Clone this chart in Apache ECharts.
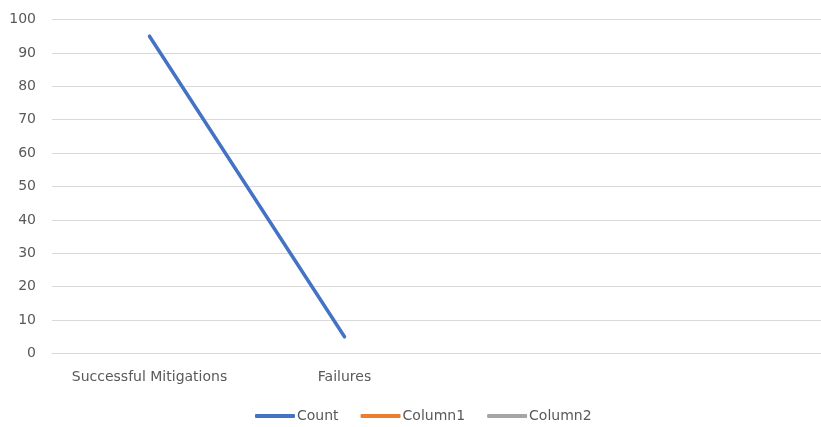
<!DOCTYPE html>
<html>
<head>
<meta charset="utf-8">
<script src="https://cdn.jsdelivr.net/npm/echarts@6/dist/echarts.min.js"></script>
<style>
  html, body { margin: 0; padding: 0; background: #ffffff; }
  #chart { width: 821px; height: 427px; }
</style>
</head>
<body>
<div id="chart"></div>
<script>
// Category axis: two labelled categories plus two empty slots
const categories = ['Successful Mitigations', 'Failures', '', ''];
const countValues = [95, 5, null, null];
const column1Values = [null, null, null, null];
const column2Values = [null, null, null, null];
const yTicks = { min: 0, max: 100, interval: 10 };

const labelFont = '"DejaVu Sans", Arial, sans-serif';
const textColor = '#595959';
const gridColor = '#D9D9D9';

const chart = echarts.init(document.getElementById('chart'));

function lineSeries(name, data, color) {
  return {
    name: name,
    type: 'line',
    data: data,
    symbol: 'none',
    connectNulls: false,
    lineStyle: { color: color, width: 3.5, cap: 'round' },
    itemStyle: { color: color }
  };
}

chart.setOption({
  animation: false,
  backgroundColor: '#ffffff',
  grid: { left: 52, top: 19.5, width: 780, height: 334, containLabel: false, outerBoundsMode: 'none' },
  xAxis: {
    type: 'category',
    data: categories,
    boundaryGap: true,
    axisLine: { show: true, lineStyle: { color: gridColor, width: 1 } },
    axisTick: { show: false },
    axisLabel: { color: textColor, fontFamily: labelFont, fontSize: 14, margin: 17, interval: 0 }
  },
  yAxis: {
    type: 'value',
    min: yTicks.min,
    max: yTicks.max,
    interval: yTicks.interval,
    axisLine: { show: false },
    axisTick: { show: false },
    axisLabel: { color: textColor, fontFamily: labelFont, fontSize: 14, margin: 16 },
    splitLine: { show: true, lineStyle: { color: gridColor, width: 1 } }
  },
  legend: {
    top: 404,
    left: 250,
    icon: 'roundRect',
    itemWidth: 40,
    itemHeight: 4,
    itemGap: 22,
    textStyle: { color: textColor, fontFamily: labelFont, fontSize: 14, padding: [0, 0, 0, -3] },
    data: ['Count', 'Column1', 'Column2']
  },
  series: [
    lineSeries('Count', countValues, '#4472C4'),
    lineSeries('Column1', column1Values, '#ED7D31'),
    lineSeries('Column2', column2Values, '#A5A5A5')
  ]
});
</script>
</body>
</html>
